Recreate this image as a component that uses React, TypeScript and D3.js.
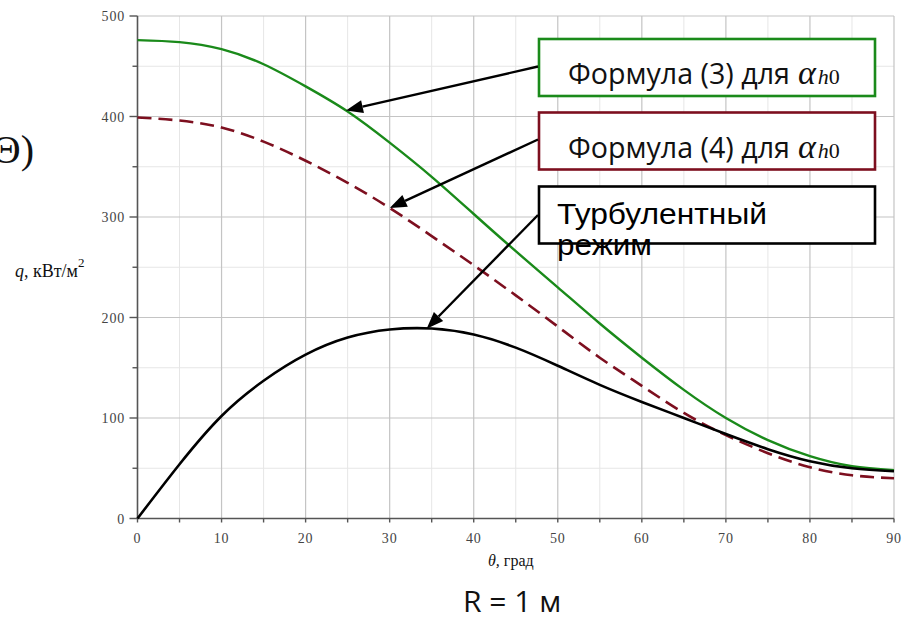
import { useEffect, useRef } from 'react';
import * as d3 from 'd3';

// theta, degrees
const thetaDeg = [0, 5, 10, 15, 20, 25, 30, 35, 40, 45, 50, 55, 60, 65, 70, 75, 80, 85, 90];
// q, kW/m2 - formula (3)
const qFormula3 = [476, 474, 467, 452, 430, 405, 374, 340, 303, 266, 230, 194, 160, 128, 100, 78, 62, 52, 48];
// q, kW/m2 - formula (4), dashed
const qFormula4 = [399, 396, 389, 375, 356, 334, 309, 281, 252, 222, 191, 160, 132, 105, 83, 65, 51, 43, 40];
// q, kW/m2 - turbulent regime
const qTurbulent = [0, 54, 102, 137, 163, 180, 188, 189, 183, 170, 152, 133, 116, 100, 84, 69, 57, 50, 47];

const xTicks = [0, 10, 20, 30, 40, 50, 60, 70, 80, 90];
const yTicks = [0, 100, 200, 300, 400, 500];

const W = 904;
const H = 621;
const GREEN = '#1a8a1a';
const RED = '#7d0f1f';

const valueAt = (series, t) => {
    const i = Math.min(thetaDeg.length - 2, Math.floor(t / 5));
    const f = (t - thetaDeg[i]) / (thetaDeg[i + 1] - thetaDeg[i]);
    return series[i] + (series[i + 1] - series[i]) * f;
};

// shrink font size until the text fits the given width
const fitText = (sel, width, size) => {
    sel.attr('font-size', size);
    const len = sel.node().getComputedTextLength();
    if (len > width) sel.attr('font-size', (size * width) / len);
};

const App = () => {
    const svgRef = useRef(null);

    useEffect(() => {
        const svg = d3.select(svgRef.current);
        svg.selectAll('*').remove();

        const x = d3.scaleLinear().domain([0, 90]).range([137.5, 894]);
        const y = d3.scaleLinear().domain([0, 500]).range([518.5, 16]);

        // grid
        const grid = svg.append('g');
        d3.range(5, 90, 10).forEach(v => {
            grid.append('line').attr('x1', x(v)).attr('x2', x(v)).attr('y1', y(0)).attr('y2', y(500))
                .attr('stroke', '#e6e6e6').attr('stroke-width', 1);
        });
        d3.range(50, 500, 100).forEach(v => {
            grid.append('line').attr('x1', x(0)).attr('x2', x(90)).attr('y1', y(v)).attr('y2', y(v))
                .attr('stroke', '#e6e6e6').attr('stroke-width', 1);
        });
        xTicks.slice(1).forEach(v => {
            grid.append('line').attr('x1', x(v)).attr('x2', x(v)).attr('y1', y(0)).attr('y2', y(500))
                .attr('stroke', '#c4c4c4').attr('stroke-width', 1.2);
        });
        yTicks.slice(1).forEach(v => {
            grid.append('line').attr('x1', x(0)).attr('x2', x(90)).attr('y1', y(v)).attr('y2', y(v))
                .attr('stroke', '#c4c4c4').attr('stroke-width', 1.2);
        });

        // axes
        const axisColor = '#555';
        svg.append('line').attr('x1', x(0)).attr('x2', x(0)).attr('y1', y(0)).attr('y2', y(500))
            .attr('stroke', axisColor).attr('stroke-width', 1.6);
        svg.append('line').attr('x1', x(0) - 8).attr('x2', x(90)).attr('y1', y(0)).attr('y2', y(0))
            .attr('stroke', axisColor).attr('stroke-width', 1.6);
        d3.range(0, 95, 5).forEach(v => {
            svg.append('line').attr('x1', x(v)).attr('x2', x(v)).attr('y1', y(0)).attr('y2', y(0) + 4)
                .attr('stroke', axisColor).attr('stroke-width', 1.4);
        });
        d3.range(50, 550, 50).forEach(v => {
            const major = v % 100 === 0;
            svg.append('line').attr('x1', x(0) - (major ? 8 : 5)).attr('x2', x(0)).attr('y1', y(v)).attr('y2', y(v))
                .attr('stroke', axisColor).attr('stroke-width', 1.4);
        });

        const tickFont = '"Liberation Serif", "Times New Roman", serif';
        svg.append('g').selectAll('text').data(yTicks).join('text')
            .attr('x', 125).attr('y', d => y(d) + 5)
            .attr('text-anchor', 'end').attr('font-family', tickFont).attr('font-size', 14)
            .attr('letter-spacing', 0.8).attr('fill', '#444').text(d => d);
        svg.append('g').selectAll('text').data(xTicks).join('text')
            .attr('x', d => x(d)).attr('y', 543)
            .attr('text-anchor', 'middle').attr('font-family', tickFont).attr('font-size', 14)
            .attr('letter-spacing', 0.8).attr('fill', '#444').text(d => d);

        // curves
        const line = series => d3.line()
            .x((d, i) => x(thetaDeg[i]))
            .y(d => y(d))
            .curve(d3.curveNatural)(series);

        svg.append('path').attr('d', line(qFormula3)).attr('fill', 'none')
            .attr('stroke', GREEN).attr('stroke-width', 2.4);
        svg.append('path').attr('d', line(qFormula4)).attr('fill', 'none')
            .attr('stroke', RED).attr('stroke-width', 2.6).attr('stroke-dasharray', '14 7');
        svg.append('path').attr('d', line(qTurbulent)).attr('fill', 'none')
            .attr('stroke', '#000').attr('stroke-width', 2.6);

        // annotation boxes with arrows
        const boxes = [
            { y: 39, color: GREEN, start: 66.5, target: [24.8, qFormula3] },
            { y: 112.5, color: RED, start: 139.5, target: [30.0, qFormula4] },
            { y: 186.5, color: '#000', start: 215, target: [34.4, qTurbulent] },
        ];
        boxes.forEach(b => {
            svg.append('rect').attr('x', 539).attr('y', b.y).attr('width', 336).attr('height', 57)
                .attr('fill', '#fff').attr('stroke', b.color).attr('stroke-width', 2.6);

            const tx = x(b.target[0]);
            const ty = y(valueAt(b.target[1], b.target[0]));
            const sx = 538;
            const sy = b.start;
            const len = Math.hypot(sx - tx, sy - ty);
            const ux = (sx - tx) / len;
            const uy = (sy - ty) / len;
            const hl = 17;
            const hw = 6.5;
            svg.append('line').attr('x1', sx).attr('y1', sy).attr('x2', tx + ux * hl).attr('y2', ty + uy * hl)
                .attr('stroke', '#000').attr('stroke-width', 2.4);
            const bx = tx + ux * hl;
            const by = ty + uy * hl;
            svg.append('polygon')
                .attr('points', [[tx, ty], [bx - uy * hw, by + ux * hw], [bx + uy * hw, by - ux * hw]].map(p => p.join(',')).join(' '))
                .attr('fill', '#000');
        });

        const sans = '"Open Sans", "Noto Sans", sans-serif';
        const math = '"Liberation Serif", "DejaVu Serif", serif';
        [{ label: 'Формула (3) для', y: 84 }, { label: 'Формула (4) для', y: 157.5 }].forEach(t => {
            const lab = svg.append('text').attr('x', 568).attr('y', t.y).attr('fill', '#111')
                .attr('font-family', sans).text(t.label);
            fitText(lab, 222, 30);
            const sym = svg.append('text').attr('x', 798).attr('y', t.y).attr('fill', '#111')
                .attr('font-family', math);
            sym.append('tspan').attr('font-size', 34).attr('font-style', 'italic').text('α');
            sym.append('tspan').attr('font-size', 22).attr('font-style', 'italic').attr('dx', 2).text('h');
            sym.append('tspan').attr('font-size', 22).text('0');
        });

        const tb = svg.append('text').attr('font-family', '"Liberation Sans", Arial, sans-serif')
            .attr('font-size', 29).attr('fill', '#000');
        tb.append('tspan').attr('x', 557).attr('y', 224).attr('textLength', 210)
            .attr('lengthAdjust', 'spacingAndGlyphs').text('Турбулентный');
        tb.append('tspan').attr('x', 557).attr('y', 255).attr('textLength', 95)
            .attr('lengthAdjust', 'spacingAndGlyphs').text('режим');

        // axis titles
        const yl = svg.append('text').attr('x', 15).attr('y', 277).attr('font-family', tickFont)
            .attr('font-size', 18).attr('fill', '#111');
        yl.append('tspan').attr('font-style', 'italic').text('q');
        yl.append('tspan').text(', кВт/м');
        yl.append('tspan').attr('font-size', 13).attr('dy', -10).text('2');

        const xl = svg.append('text').attr('x', 488).attr('y', 566).attr('font-family', tickFont)
            .attr('font-size', 16).attr('fill', '#111');
        xl.append('tspan').attr('font-style', 'italic').text('θ,');
        xl.append('tspan').text(' град');

        const rl = svg.append('text').attr('x', 463).attr('y', 612).attr('font-family', sans)
            .attr('fill', '#111').text('R = 1 м');
        fitText(rl, 105, 30);

        // fragment of a neighbouring label, cut by the left edge as in the source
        svg.append('text').attr('x', 34).attr('y', 163).attr('text-anchor', 'end').attr('font-family', tickFont)
            .attr('font-size', 40).attr('fill', '#111').text('Θ)');
    }, []);

    return (
        <svg
            ref={svgRef}
            width={W}
            height={H}
            viewBox={`0 0 ${W} ${H}`}
            style={{ position: 'absolute', left: 0, top: 0, background: '#fff' }}
        />
    );
};

export default App;
